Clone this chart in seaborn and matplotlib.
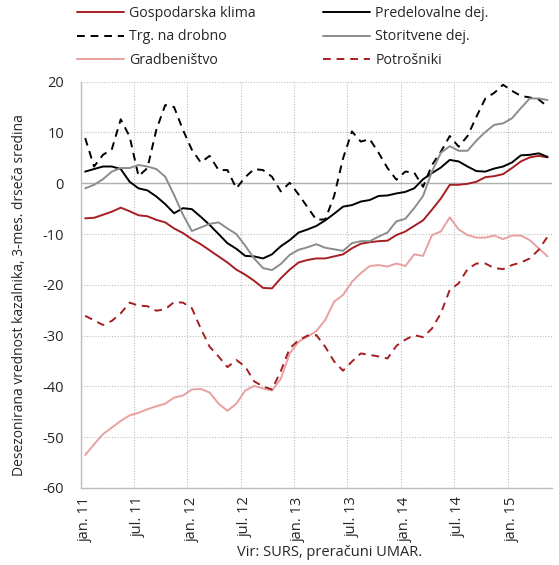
import matplotlib
matplotlib.use("Agg")
import matplotlib.pyplot as plt
import seaborn as sns
import numpy as np
import pandas as pd

# monthly data, jan. 2011 - maj 2015
months = pd.period_range("2011-01", "2015-05", freq="M")
month_abbr = {1: "jan.", 7: "jul."}

gosp = [-6.9, -6.8, -6.2, -5.6, -4.8, -5.5, -6.3, -6.5, -7.2, -7.7,
        -8.9, -9.8, -11.0, -12.0, -13.2, -14.4, -15.6, -17.0, -18.0, -19.2,
        -20.6, -20.7, -18.7, -17.0, -15.6, -15.1, -14.8, -14.8, -14.4, -14.0,
        -12.8, -11.9, -11.6, -11.4, -11.3, -10.2, -9.5, -8.4, -7.3, -5.2,
        -3.0, -0.3, -0.3, -0.1, 0.3, 1.2, 1.4, 1.8, 3.0, 4.3,
        5.1, 5.4, 5.1]
pred = [2.3, 2.8, 3.3, 3.3, 2.8, 0.3, -1.0, -1.4, -2.6, -4.1,
        -5.9, -4.9, -5.1, -6.6, -8.2, -10.0, -11.8, -12.9, -14.3, -14.4,
        -14.8, -14.0, -12.4, -11.2, -9.7, -9.1, -8.4, -7.3, -6.0, -4.6,
        -4.3, -3.6, -3.3, -2.5, -2.4, -2.0, -1.7, -1.0, 0.8, 2.0,
        3.1, 4.6, 4.3, 3.3, 2.4, 2.3, 2.9, 3.3, 4.1, 5.5,
        5.6, 5.9, 5.2]
trg = [8.9, 3.3, 5.6, 6.7, 12.6, 9.2, 1.4, 3.0, 10.5, 15.4,
       15.0, 10.5, 6.6, 4.1, 5.4, 2.6, 2.6, -1.0, 1.2, 2.8,
       2.6, 1.3, -1.6, 0.1, -2.2, -4.7, -7.2, -7.1, -2.5, 4.9,
       10.2, 8.2, 8.7, 6.0, 3.0, 0.7, 2.3, 2.1, -0.7, 3.6,
       6.2, 9.3, 7.2, 9.3, 13.1, 16.7, 17.8, 19.4, 18.2, 17.2,
       16.9, 16.5, 15.1]
stor = [-1.0, -0.3, 0.8, 2.3, 3.0, 3.0, 3.6, 3.3, 2.8, 1.3,
        -2.3, -6.2, -9.4, -8.7, -8.0, -7.7, -8.9, -10.0, -12.3, -14.8,
        -16.7, -17.1, -15.9, -14.1, -13.1, -12.6, -12.0, -12.7, -13.0, -13.3,
        -11.8, -11.4, -11.4, -10.5, -9.7, -7.5, -7.0, -4.9, -2.5, 2.3,
        6.0, 7.3, 6.4, 6.4, 8.4, 10.1, 11.5, 11.8, 12.8, 14.8,
        16.7, 16.7, 16.4]
grad = [-53.5, -51.4, -49.4, -48.1, -46.8, -45.7, -45.2, -44.5, -43.9, -43.4,
        -42.2, -41.8, -40.6, -40.5, -41.2, -43.4, -44.8, -43.4, -40.8, -39.9,
        -40.4, -40.8, -38.5, -33.5, -31.2, -30.2, -29.1, -26.9, -23.3, -22.0,
        -19.4, -17.7, -16.3, -16.1, -16.4, -15.8, -16.3, -14.0, -14.3, -10.2,
        -9.5, -6.7, -9.1, -10.2, -10.7, -10.7, -10.3, -11.0, -10.3, -10.3,
        -11.2, -12.8, -14.4]
potr = [-26.1, -27.0, -27.9, -27.1, -25.6, -23.5, -24.1, -24.2, -25.1, -24.8,
        -23.4, -23.5, -24.6, -28.6, -32.2, -34.1, -36.2, -34.8, -36.1, -39.0,
        -40.0, -40.6, -37.0, -32.5, -30.9, -30.0, -29.9, -32.2, -35.1, -36.9,
        -35.1, -33.5, -33.8, -34.1, -34.5, -32.0, -30.8, -29.9, -30.3, -28.6,
        -25.6, -21.0, -19.7, -16.9, -15.8, -15.8, -16.7, -16.9, -16.1, -15.6,
        -14.8, -13.1, -10.5]

# legend order (fills column by column)
series = [
    ("Gospodarska klima", gosp, "#A61E22", "-"),
    ("Trg. na drobno", trg, "#000000", "--"),
    ("Gradbeništvo", grad, "#E8A0A0", "-"),
    ("Predelovalne dej.", pred, "#000000", "-"),
    ("Storitvene dej.", stor, "#8C8C8C", "-"),
    ("Potrošniki", potr, "#A61E22", "--"),
]

sns.set_style("white")
plt.rcParams["font.family"] = ["Open Sans", "DejaVu Sans"]
plt.rcParams["axes.unicode_minus"] = False

fig = plt.figure(figsize=(5.59, 5.65), dpi=100)
ax = fig.add_axes([0.1444, 0.1363, 0.8431, 0.7191])

x = np.arange(len(months))
for name, vals, col, ls in series:
    sns.lineplot(x=x, y=vals, ax=ax, color=col, linewidth=1.4, label=name)
    if ls == "--":
        ax.lines[-1].set_dashes((4, 3))

ax.set_xlim(-0.5, len(months) - 0.5)
ax.set_ylim(-60, 20)
ax.set_yticks(np.arange(-60, 21, 10))
ax.tick_params(axis="y", labelsize=10.5, length=0, pad=12)

tick_pos = [i for i, m in enumerate(months) if m.month in (1, 7)]
tick_lab = ["{} {}".format(month_abbr[months[i].month], str(months[i].year)[2:])
            for i in tick_pos]
ax.set_xticks(tick_pos)
ax.set_xticklabels(tick_lab, rotation=90, fontsize=10.5)
ax.tick_params(axis="x", length=0, pad=6)
ax.set_xticks(np.arange(5.5, len(months) - 1, 6), minor=True)
ax.tick_params(axis="x", which="minor", length=0)

ax.grid(False)
ax.grid(axis="y", which="major", color="#BDBDBD", linestyle=(0, (1, 1.5)),
        linewidth=0.8)
ax.grid(axis="x", which="minor", color="#BDBDBD", linestyle=(0, (1, 1.5)),
        linewidth=0.8)
ax.axhline(0, color="#B0B0B0", linewidth=1.0, zorder=1)

for s in ["top", "right"]:
    ax.spines[s].set_visible(False)
for s in ["left", "bottom"]:
    ax.spines[s].set_color("#BDBDBD")
    ax.spines[s].set_linewidth(1.0)

ax.set_ylabel("Desezonirana vrednost kazalnika, 3-mes. drseča sredina",
              fontsize=10)
ax.yaxis.set_label_coords(-0.113, 0.475)
ax.set_xlabel("")
fig.text(330 / 559, 1 - 553 / 565, "Vir: SURS, preračuni UMAR.",
         ha="center", va="center", fontsize=10.5)

handles, labels = ax.get_legend_handles_labels()
ax.get_legend().remove()
fig.legend(handles, labels, ncol=2, loc="upper left",
           bbox_to_anchor=(77 / 559, 1 - 6 / 565), frameon=False,
           fontsize=10.2, handlelength=3.3, handletextpad=0.35,
           columnspacing=4.8, labelspacing=0.6, borderpad=0,
           borderaxespad=0)

fig.savefig("out.png", dpi=100)
